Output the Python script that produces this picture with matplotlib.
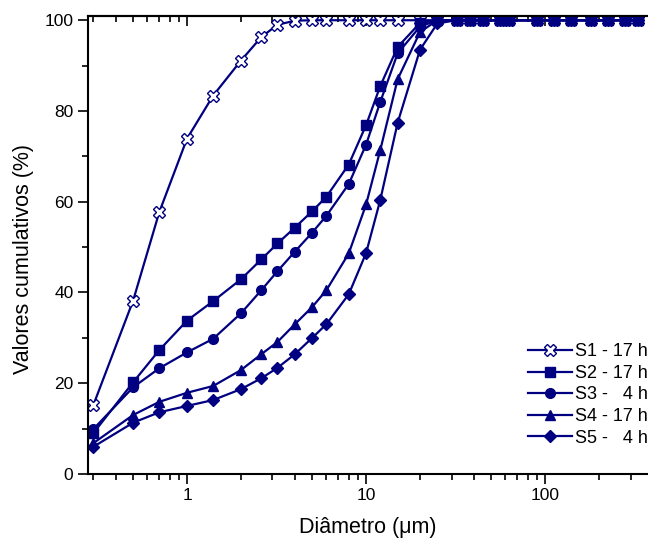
import matplotlib
matplotlib.use('Agg')
import matplotlib.pyplot as plt
from matplotlib.ticker import LogLocator, MultipleLocator, FixedFormatter, FixedLocator

plt.rcParams['font.family'] = ['Liberation Sans', 'DejaVu Sans']

# particle diameters (um)
diam = [0.3, 0.5, 0.7, 1, 1.4, 2, 2.6, 3.2, 4, 5, 6, 8, 10, 12, 15,
        20, 25, 32, 38, 45, 56, 63, 90, 112, 140, 180, 224, 280, 330]

s1 = [15.2, 38.2, 57.7, 73.9, 83.4, 91.1, 96.3, 99.0, 99.9, 100, 100, 100, 100, 100, 100,
      100, 100, 100, 100, 100, 100, 100, 100, 100, 100, 100, 100, 100, 100]
s2 = [9.0, 20.2, 27.3, 33.8, 38.1, 42.9, 47.3, 50.8, 54.3, 57.9, 61.1, 68.2, 76.9, 85.5, 94.1,
      99.4, 100, 100, 100, 100, 100, 100, 100, 100, 100, 100, 100, 100, 100]
s3 = [9.9, 19.1, 23.3, 26.8, 29.8, 35.4, 40.5, 44.7, 49.0, 53.2, 56.9, 63.9, 72.6, 82.0, 92.7,
      98.6, 100, 100, 100, 100, 100, 100, 100, 100, 100, 100, 100, 100, 100]
s4 = [6.8, 13.0, 15.9, 17.9, 19.4, 22.9, 26.4, 29.1, 33.0, 36.8, 40.5, 48.6, 59.4, 71.4, 87.0,
      97.4, 100, 100, 100, 100, 100, 100, 100, 100, 100, 100, 100, 100, 100]
s5 = [6.0, 11.3, 13.6, 15.0, 16.3, 18.7, 21.1, 23.4, 26.4, 30.0, 33.0, 39.6, 48.7, 60.4, 77.4,
      93.5, 99.3, 100, 100, 100, 100, 100, 100, 100, 100, 100, 100, 100, 100]

labels = ['S1 - 17 h', 'S2 - 17 h', 'S3 -   4 h', 'S4 - 17 h', 'S5 -   4 h']

col = '#000080'

fig = plt.figure(figsize=(6.48, 5.41), dpi=100)
ax = fig.add_axes([88/648, 1-474/541, 1-88/648, (474-15.7)/541])

ax.plot(diam, s1, color=col, lw=1.6, marker='X', ms=8, mfc='white', mec=col, mew=1.0,
        label=labels[0])
ax.plot(diam, s2, color=col, lw=1.6, marker='s', ms=6.5, label=labels[1])
ax.plot(diam, s3, color=col, lw=1.6, marker='o', ms=7, label=labels[2])
ax.plot(diam, s4, color=col, lw=1.6, marker='^', ms=7.5, label=labels[3])
ax.plot(diam, s5, color=col, lw=1.6, marker='D', ms=6.5, label=labels[4])

ax.set_xscale('log')
ax.set_xlim(0.28, 375)
ax.set_ylim(0, 101)

ax.xaxis.set_major_locator(FixedLocator([1, 10, 100]))
ax.xaxis.set_major_formatter(FixedFormatter(['1', '10', '100']))
ax.xaxis.set_minor_locator(LogLocator(base=10, subs=range(2, 10)))
ax.xaxis.set_minor_formatter(FixedFormatter([]))
ax.yaxis.set_major_locator(MultipleLocator(20))
ax.yaxis.set_minor_locator(MultipleLocator(10))

ax.tick_params(which='both', direction='out', width=1.2, labelsize=12.5)
ax.tick_params(which='major', length=7)
ax.tick_params(which='minor', length=4)
ax.tick_params(axis='x', which='major', pad=3)

# ticks on top spine pointing inward
sec = ax.secondary_xaxis('top')
sec.xaxis.set_major_locator(FixedLocator([1, 10, 100]))
sec.xaxis.set_minor_locator(LogLocator(base=10, subs=range(2, 10)))
sec.tick_params(which='both', direction='in', width=1.2, labeltop=False)
sec.tick_params(which='major', length=7)
sec.tick_params(which='minor', length=4)
sec.spines['top'].set_linewidth(1.5)

for s in ax.spines.values():
    s.set_linewidth(1.5)
ax.spines['right'].set_visible(False)

ax.set_xlabel('Diâmetro (μm)', fontsize=15.5, labelpad=10)
ax.set_ylabel('Valores cumulativos (%)', fontsize=15.5)
ax.yaxis.set_label_coords(-0.097, 0.47)

ax.legend(loc='lower right', bbox_to_anchor=(1.0, 0.06), frameon=False, fontsize=13,
          handlelength=2.4, handletextpad=0.2, labelspacing=0.25, borderaxespad=0,
          borderpad=0)

fig.savefig('out.png', dpi=100)
